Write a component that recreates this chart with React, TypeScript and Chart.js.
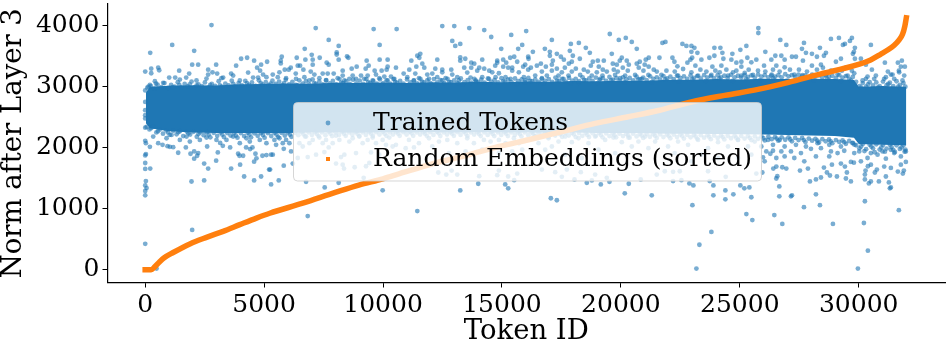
import React, { useEffect, useRef } from "react";
import { Chart, registerables } from "chart.js";

Chart.register(...registerables);

const seriesNames = ["Trained Tokens", "Random Embeddings (sorted)"];
const xTitle = "Token ID";
const yTitle = "Norm after Layer 3";
const xTicks = [0, 5000, 10000, 15000, 20000, 25000, 30000];
const yTicks = [0, 1000, 2000, 3000, 4000];

// Solid core of the trained-token cloud, read as an envelope: [token id, norm]
const coreTop: number[][] = [
  [30,2900],[200,3000],[1000,3015],[2000,3025],[3000,3020],[4000,3040],[5000,3045],[6000,3055],[7000,3050],[8000,3065],[9000,3060],[10000,3070],
  [11000,3060],[12000,3075],[13000,3070],[14000,3080],[15000,3075],[16000,3085],[17000,3080],[18000,3095],[19000,3090],[20000,3100],[21000,3100],
  [22000,3115],[23000,3115],[24000,3125],[25000,3120],[26000,3130],[27000,3125],[28000,3130],[29000,3125],[29800,3110],[30000,3000],[31000,3010],[32000,3000],
];
const coreBottom: number[][] = [
  [30,2400],[200,2320],[1000,2270],[2000,2250],[3000,2240],[4000,2240],[5000,2235],[6000,2240],[7000,2250],[8000,2250],[9000,2245],[10000,2255],
  [11000,2250],[12000,2255],[13000,2250],[14000,2255],[15000,2250],[16000,2250],[17000,2245],[18000,2250],[19000,2240],[20000,2240],[21000,2235],
  [22000,2230],[23000,2230],[24000,2225],[25000,2220],[26000,2215],[27000,2210],[28000,2200],[29000,2190],[29800,2165],[30000,2060],[31000,2050],[32000,2040],
];

// Dots that make up the rough upper and lower rim of the cloud
const rimAbove: number[][] = [
  [90,2985],[240,3010],[390,2970],[520,3035],[680,2995],[810,3060],[970,2980],[1090,3030],[1240,3000],[1370,3075],[1520,2990],[1660,3045],[1790,3005],[1950,3085],[2090,2995],[2240,3040],[2380,3010],[2510,3070],[2670,2990],[2800,3045],[2940,3015],[3090,3090],[3220,3000],[3370,3050],[3510,3020],[3640,3100],[3790,3010],[3930,3060],[4070,3020],[4210,3095],[4360,3030],[4490,3070],[4640,3015],[4780,3105],[4930,3035],[5070,3075],
  [5200,3025],[5350,3100],[5480,3045],[5630,3085],[5770,3030],[5910,3115],[6050,3040],[6190,3080],[6330,3030],[6480,3105],[6620,3050],[6760,3090],[6900,3035],[7040,3120],[7180,3045],[7320,3085],[7460,3040],[7610,3110],[7750,3055],[7890,3095],[8030,3040],[8170,3125],[8310,3060],[8450,3090],[8600,3045],[8740,3115],[8880,3055],[9020,3100],[9160,3045],[9300,3125],[9450,3060],[9590,3095],[9730,3050],[9870,3120],[10010,3060],[10150,3105],
  [10300,3050],[10440,3125],[10580,3065],[10720,3095],[10860,3050],[11010,3120],[11150,3070],[11290,3100],[11430,3055],[11570,3130],[11710,3070],[11860,3105],[12000,3060],[12140,3125],[12280,3070],[12420,3110],[12570,3060],[12710,3130],[12850,3075],[12990,3105],[13130,3060],[13270,3135],[13420,3075],[13560,3110],[13700,3065],[13840,3130],[13980,3080],[14130,3115],[14270,3065],[14410,3135],[14550,3085],[14690,3110],[14840,3070],[14980,3140],[15120,3085],[15260,3115],
  [15400,3075],[15550,3135],[15690,3090],[15830,3120],[15970,3075],[16110,3145],[16260,3090],[16400,3120],[16540,3080],[16680,3140],[16820,3095],[16970,3125],[17110,3080],[17250,3150],[17390,3095],[17530,3130],[17680,3085],[17820,3145],[17960,3100],[18100,3130],[18240,3090],[18390,3155],[18530,3105],[18670,3135],[18810,3095],[18950,3150],[19100,3110],[19240,3140],[19380,3095],[19520,3160],[19660,3115],[19810,3140],[19950,3100],[20090,3155],[20230,3120],[20370,3145],
  [20520,3105],[20660,3165],[20800,3125],[20940,3150],[21080,3110],[21230,3170],[21370,3130],[21510,3155],[21650,3120],[21790,3175],[21940,3135],[22080,3165],[22220,3125],[22360,3180],[22500,3140],[22650,3170],[22790,3130],[22930,3185],[23070,3145],[23210,3175],[23360,3135],[23500,3190],[23640,3150],[23780,3175],[23920,3140],[24070,3190],[24210,3155],[24350,3180],[24490,3145],[24630,3195],[24780,3155],[24920,3180],[25060,3150],[25200,3195],[25340,3160],[25490,3185],
  [25630,3150],[25770,3200],[25910,3165],[26050,3190],[26200,3155],[26340,3200],[26480,3165],[26620,3190],[26760,3155],[26910,3205],[27050,3170],[27190,3190],[27330,3160],[27470,3200],[27620,3170],[27760,3185],[27900,3150],[28040,3200],[28180,3165],[28330,3185],[28470,3150],[28610,3195],[28750,3160],[28890,3180],[29040,3140],[29180,3190],[29320,3150],[29460,3175],[29600,3130],[29750,3160],[29890,3080],[30030,3010],[30170,3060],[30310,3000],[30460,3075],[30600,3020],
  [30740,3070],[30880,3010],[31020,3085],[31170,3025],[31310,3065],[31450,3010],[31590,3090],[31730,3030],[31880,3060],[31960,3000],
];
const rimBelow: number[][] = [
  [60,2340],[180,2300],[330,2340],[470,2250],[610,2300],[750,2230],[890,2285],[1030,2210],[1180,2280],[1320,2220],[1460,2270],[1600,2190],[1750,2265],[1890,2215],[2030,2260],[2170,2180],[2310,2250],[2460,2205],[2600,2255],[2740,2170],[2880,2245],[3030,2195],[3170,2250],[3310,2175],[3450,2240],[3590,2200],[3740,2245],[3880,2165],[4020,2240],[4160,2190],[4310,2245],[4450,2170],[4590,2235],[4730,2195],[4870,2240],[5020,2165],
  [5160,2240],[5300,2190],[5440,2245],[5590,2175],[5730,2245],[5870,2200],[6010,2250],[6150,2180],[6300,2245],[6440,2205],[6580,2255],[6720,2185],[6870,2250],[7010,2210],[7150,2255],[7290,2190],[7430,2250],[7580,2205],[7720,2260],[7860,2190],[8000,2250],[8150,2210],[8290,2260],[8430,2195],[8570,2250],[8710,2215],[8860,2255],[9000,2190],[9140,2250],[9280,2210],[9420,2255],[9570,2195],[9710,2255],[9850,2215],[9990,2260],[10140,2195],
  [10280,2250],[10420,2215],[10560,2255],[10700,2195],[10850,2255],[10990,2215],[11130,2260],[11270,2195],[11410,2250],[11560,2215],[11700,2255],[11840,2195],[11980,2255],[12120,2210],[12270,2260],[12410,2190],[12550,2250],[12690,2215],[12840,2255],[12980,2195],[13120,2255],[13260,2210],[13400,2260],[13550,2190],[13690,2250],[13830,2215],[13970,2255],[14110,2190],[14260,2250],[14400,2210],[14540,2255],[14680,2190],[14830,2250],[14970,2210],[15110,2255],[15250,2190],
  [15390,2250],[15540,2210],[15680,2250],[15820,2185],[15960,2250],[16110,2205],[16250,2250],[16390,2185],[16530,2245],[16670,2205],[16820,2250],[16960,2180],[17100,2245],[17240,2200],[17380,2245],[17530,2180],[17670,2240],[17810,2200],[17950,2245],[18100,2175],[18240,2240],[18380,2195],[18520,2240],[18660,2175],[18810,2235],[18950,2195],[19090,2240],[19230,2170],[19380,2235],[19520,2190],[19660,2235],[19800,2170],[19940,2230],[20090,2190],[20230,2230],[20370,2165],
  [20510,2230],[20660,2185],[20800,2225],[20940,2160],[21080,2225],[21220,2180],[21370,2220],[21510,2160],[21650,2220],[21790,2175],[21940,2215],[22080,2155],[22220,2215],[22360,2175],[22500,2215],[22650,2150],[22790,2210],[22930,2170],[23070,2210],[23210,2145],[23360,2205],[23500,2165],[23640,2205],[23780,2140],[23920,2200],[24070,2160],[24210,2200],[24350,2135],[24490,2195],[24630,2155],[24780,2195],[24920,2130],[25060,2190],[25200,2150],[25340,2190],[25490,2125],
  [25630,2185],[25770,2145],[25910,2185],[26050,2120],[26200,2180],[26340,2140],[26480,2175],[26620,2115],[26760,2170],[26910,2130],[27050,2170],[27190,2105],[27330,2160],[27470,2125],[27620,2160],[27760,2095],[27900,2150],[28040,2115],[28180,2145],[28330,2085],[28470,2140],[28610,2105],[28750,2135],[28890,2075],[29040,2125],[29180,2095],[29320,2120],[29460,2065],[29600,2110],[29750,2080],[29890,2040],[30030,1990],[30170,2060],[30310,1975],[30460,2050],[30600,1990],
  [30740,2055],[30880,1970],[31020,2045],[31170,1985],[31310,2050],[31450,1965],[31590,2040],[31730,1980],[31880,2040],[31960,1970],
];

// Extra rim dots that sit just outside the core and break up its edge
const edgeAbove: number[][] = [
  [140,3000],[455,3050],[1160,2995],[1435,3030],[1870,3040],[2165,3020],[2735,3030],[3145,3020],[3705,3045],[4280,3060],[4860,3060],[5275,3050],[5840,3060],[6405,3020],[7110,3060],[7535,3025],[8240,3065],[8810,3025],[9375,3075],[9940,3025],[10510,3080],[11080,3030],[11640,3085],[12210,3030],[12780,3080],[13345,3035],[13910,3085],[14480,3040],[15050,3090],[15620,3045],[16185,3095],[16750,3050],[17320,3100],[17890,3055],[18455,3110],[19020,3060],[19590,3105],[20160,3070],[20730,3115],[21300,3075],[21870,3120],[22430,3085],[23000,3125],[23570,3095],[24140,3135],[24700,3095],[25270,3130],[25840,3105],[26410,3140],[26980,3100],[27550,3135],[28110,3105],[28680,3130],[29250,3095],[29670,3100],[30100,2985],[30390,3040],[30810,2990],[31240,3045],[31660,3000],
];
const edgeBelow: number[][] = [
  [250,2320],[540,2270],[960,2250],[1390,2255],[1820,2235],[2240,2225],[2670,2215],[3240,2215],[3810,2200],[4380,2215],[4950,2210],[5520,2215],[6080,2215],[6650,2225],[7220,2225],[7790,2230],[8360,2230],[8930,2225],[9500,2230],[10070,2230],[10640,2230],[11200,2235],[11770,2230],[12340,2235],[12910,2230],[13480,2230],[14040,2225],[14610,2225],[15180,2230],[15750,2225],[16320,2225],[16890,2220],[17450,2220],[18020,2220],[18590,2210],[19160,2210],[19730,2205],[20300,2205],[20870,2200],[21440,2195],[22010,2190],[22580,2190],[23140,2185],[23710,2180],[24280,2175],[24850,2165],[25420,2160],[25990,2155],[26550,2150],[27120,2135],[27690,2125],[28260,2115],[28820,2105],[29390,2090],[29820,2050],[30100,2020],[30240,1945],[30530,2020],[30670,1925],[30950,2005],[31100,1935],[31380,2010],[31520,1930],[31800,2005],[31930,1935],
];

// Individually read trained tokens above the core
const trainedAbove: number[][] = [
  [2788,4011],[1136,3686],[212,3556],[2060,3589],[2,3248],[254,3297],[254,3221],[548,3313],[590,3270],[1976,3362],[2228,3362],[1430,3264],[1850,3216],[2984,3362],[2648,3280],[2830,3237],[2648,3200],[3026,3216],[3824,3345],[4034,3459],[4286,3475],[4580,3427],[4874,3362],[5126,3410],[4706,3313],[4832,3264],[4328,3232],[3614,3216],[1010,3151],[1262,3151],[1724,3151],[3278,3151],[3698,3183],[4538,3151],[4958,3200],[4748,3151],[3208,3140],[2578,3134],[1458,3118],[758,3064],[408,3091],[2158,3102],[3978,3102],[5098,3156],[198,3031],
  [7170,3962],[9606,3946],[10572,3946],[7716,3767],[8136,3670],[9858,3686],[6708,3621],[8052,3562],[8052,3529],[7002,3524],[5742,3492],[6372,3475],[7338,3475],[8486,3497],[8542,3475],[7044,3443],[5700,3427],[5700,3383],[6736,3443],[8136,3443],[9312,3427],[9858,3443],[10194,3443],[7632,3394],[7044,3362],[6120,3313],[6414,3345],[6512,3345],[7716,3362],[9396,3345],[10194,3329],[8892,3329],[5868,3280],[6652,3280],[6960,3248],[8304,3264],[8682,3297],[9270,3297],[9648,3264],[9942,3264],[10152,3280],[10544,3313],[5364,3200],[5644,3237],[6330,3216],[6036,3280],[7114,3200],[7464,3216],[7674,3216],[7926,3216],[8304,3183],[8724,3183],[9074,3183],[9354,3183],[9704,3200],[10054,3167],[10334,3167],[5574,3156],[5924,3140],[6344,3129],[6694,3156],[7324,3140],[8094,3140],[8584,3129],[8864,3129],[9214,3129],[9844,3140],[10474,3129],[6904,3102],[7604,3102],[8374,3102],[9564,3102],[10194,3102],
  [12491,3995],[12995,3995],[13625,3962],[14255,3930],[14549,3816],[15389,3849],[16019,3913],[12911,3751],[13037,3670],[13247,3702],[14969,3621],[15683,3621],[15851,3686],[11567,3540],[11441,3508],[11525,3475],[12281,3443],[13247,3481],[13247,3427],[13457,3459],[14171,3443],[14801,3427],[15053,3443],[15347,3475],[15515,3492],[16103,3492],[11189,3427],[11651,3378],[11735,3313],[11105,3280],[11399,3329],[12197,3297],[12491,3280],[12869,3280],[13415,3313],[13709,3394],[13835,3378],[13709,3313],[14045,3313],[14255,3297],[14465,3264],[14717,3345],[14801,3394],[15179,3394],[15053,3329],[15263,3313],[15431,3313],[15641,3410],[15977,3362],[15893,3329],[16103,3280],[10867,3216],[11357,3216],[11861,3200],[12071,3216],[12491,3237],[12911,3200],[13541,3232],[13961,3264],[14591,3237],[14871,3221],[15431,3264],[15711,3237],[11021,3156],[11511,3140],[12281,3156],[12631,3140],[13121,3156],[13681,3151],[14171,3156],[14731,3156],[15151,3156],[15921,3156],[11301,3102],[11931,3129],[12491,3102],[13191,3102],[13891,3102],[14451,3129],[15361,3129],[15991,3102],
  [19534,3865],[17098,3767],[17896,3702],[18232,3719],[19912,3767],[20206,3800],[20458,3735],[20668,3621],[16804,3621],[18526,3638],[16300,3573],[17014,3573],[17854,3589],[18694,3556],[17014,3508],[17308,3540],[17476,3492],[17980,3508],[19618,3540],[18274,3459],[20038,3475],[21172,3475],[16118,3459],[17602,3443],[17140,3427],[17938,3410],[19030,3427],[19282,3427],[19954,3427],[20248,3427],[20794,3410],[21046,3443],[16636,3378],[16468,3345],[17098,3362],[17812,3378],[18820,3410],[18736,3345],[19660,3378],[19828,3362],[20332,3362],[20668,3378],[21002,3362],[21170,3329],[16216,3313],[16846,3329],[17308,3297],[17644,3313],[18106,3297],[18442,3280],[19072,3329],[19240,3280],[19702,3280],[20080,3313],[20752,3313],[21382,3280],[16678,3248],[17098,3264],[17518,3237],[17938,3248],[18610,3248],[18988,3237],[19408,3248],[19870,3248],[20290,3264],[20948,3264],[21508,3248],[16398,3183],[16888,3183],[17378,3183],[17798,3183],[18288,3194],[18778,3183],[19226,3183],[19758,3194],[20178,3183],[20598,3194],[21158,3194],[16678,3129],[17588,3129],[18218,3064],[19128,3129],[19968,3140],[20878,3129],
  [25779,3962],[25779,3881],[26703,3767],[21873,3735],[21747,3719],[22587,3702],[22755,3670],[22965,3670],[23091,3638],[23931,3638],[24183,3638],[25275,3670],[26955,3686],[25023,3605],[22965,3573],[23217,3556],[24267,3556],[26073,3573],[21621,3475],[22167,3475],[22797,3394],[22997,3475],[23721,3475],[23931,3508],[24309,3459],[24687,3540],[25317,3475],[26493,3508],[26745,3508],[22251,3410],[22923,3443],[23385,3443],[24645,3443],[25065,3410],[25695,3443],[26325,3443],[26885,3443],[22377,3334],[23133,3345],[23847,3329],[24225,3345],[24855,3394],[25065,3329],[25485,3400],[26019,3345],[26535,3345],[22615,3291],[23343,3280],[23973,3264],[24435,3280],[24855,3264],[25373,3280],[25765,3264],[26395,3280],[26885,3318],[21915,3264],[22265,3248],[22965,3237],[23595,3248],[24155,3237],[24715,3237],[25205,3226],[26073,3248],[26675,3248],[21705,3194],[22405,3183],[23245,3183],[23805,3194],[24505,3183],[25065,3183],[25555,3194],[26325,3183],
  [28831,3784],[29167,3800],[29713,3800],[29629,3751],[29419,3702],[29335,3686],[27697,3719],[28369,3638],[27613,3621],[29839,3638],[30511,3686],[27781,3556],[28033,3540],[28621,3556],[28537,3508],[29797,3573],[29755,3540],[27193,3492],[27361,3492],[28243,3492],[27655,3427],[29041,3410],[29251,3459],[29839,3459],[30091,3459],[31099,3394],[31645,3394],[31813,3427],[28411,3362],[28033,3345],[28495,3313],[29461,3313],[30301,3362],[30553,3280],[31225,3248],[31771,3329],[31939,3329],[27109,3280],[27487,3280],[27823,3248],[28243,3280],[28831,3264],[29293,3264],[29713,3264],[31351,3200],[31687,3264],[27291,3200],[27641,3190],[28130,3183],[28620,3183],[29111,3200],[29531,3183],[29811,3220],[30301,3129],[30721,3183],[30371,3167],[31071,3129],[31421,3200],[31701,3237],[31911,3183],[30161,3102],[30651,3129],[31141,3156],[31491,3129],[31841,3102],
];

// Individually read trained tokens below the core
const trainedBelow: number[][] = [
  [2,424],[1976,651],[478,18],[30,1452],[2,1382],[58,1338],[2,1290],[2,1219],[2,1749],[2,1652],[212,1658],[30,1896],[2,1874],[198,2015],[30,2074],[2,2112],[2,2328],[2,2480],[2,2534],[2,2615],[2,2750],[2,2940],[1948,1446],[2480,1463],[2480,1739],[2648,1658],[2984,1787],[3054,1923],[3614,1658],[3992,1722],[4160,1528],[4580,1463],[4874,1528],[4580,1771],[4678,1825],[4636,1901],[4930,1868],[5098,1879],[5210,1641],[1388,1917],[1178,2009],[940,2025],[1038,2015],[730,2047],[1710,2004],[1906,1901],[2060,1939],[2228,1912],[2060,1820],[2186,1868],[2606,2020],[3152,2079],[3264,2031],[3572,2004],[3908,1901],[3964,1868],[4118,1868],[4244,2004],[4412,1977],[4510,2004],[548,2074],[338,2182],[898,2155],[1458,2128],[1878,2101],[2298,2128],[2998,2128],[3418,2128],[3978,2074],[4398,2101],[5098,2074],[1108,2209],[1738,2182],[2578,2166],[3698,2182],[4258,2155],[4818,2128],
  [7674,2372],[5826,1706],[5252,1641],[5294,1398],[5616,1463],[7548,1349],[9984,1301],[6834,878],[8136,1425],[6764,1441],[6414,1831],[6624,2020],[6834,1847],[7184,1885],[7534,1928],[7716,2004],[8374,1885],[8234,1847],[8864,1912],[9494,1923],[9844,1885],[10404,2020],[8304,1722],[8024,1739],[8360,1658],[8808,1679],[9284,1696],[9424,1749],[6204,1739],[5826,1982],[5784,2074],[5504,2047],[5364,1885],[5294,1885],[6064,2074],[5644,2155],[5434,2128],[5924,2128],[6134,1939],[6484,2074],[6904,2074],[7464,2074],[7884,2074],[8584,2101],[9144,2074],[9704,2074],[10124,2047],[10544,2047],[7044,2128],[7604,2128],[8164,2128],[8724,2155],[9354,2128],[9984,2128],[6764,2182],[7324,2166],[8024,2198],[9004,2182],[9564,2166],[10264,2166],[9186,1506],
  [11441,960],[13247,1300],[14003,1409],[15137,1398],[15263,1333],[12323,1593],[12659,1560],[12883,1625],[13121,1560],[14045,1533],[14801,1549],[15263,1528],[15641,1576],[15515,1468],[14871,1625],[10951,1993],[11301,2004],[12071,2020],[12771,1912],[13471,1939],[14171,1966],[14871,1912],[15431,1939],[15851,1966],[11511,2074],[12351,2101],[13121,2074],[13821,2074],[14521,2101],[15151,2074],[15711,2074],[11091,2128],[11931,2155],[12701,2128],[13541,2155],[14241,2128],[14871,2128],[15501,2155],[16061,2128],
  [17056,1171],[17308,1138],[20164,1252],[21298,1219],[19156,1398],[20332,1409],[18568,1425],[16678,1641],[17728,1641],[17518,1522],[17238,1598],[18050,1479],[18316,1598],[18778,1463],[18918,1560],[19408,1506],[19520,1441],[20836,1479],[21508,1560],[16818,1966],[17098,2020],[17658,1885],[18358,1831],[19058,1966],[19758,1912],[20458,2020],[21158,1993],[16538,2074],[17378,2101],[17938,2090],[18638,2074],[19338,2128],[20038,2090],[20738,2101],[21438,2101],[16398,2182],[16958,2155],[17658,2182],[18218,2155],[18918,2182],[19688,2166],[20318,2166],[21018,2182],
  [23175,18],[23301,408],[23805,619],[23007,1057],[25275,911],[25527,813],[26451,895],[26787,749],[23889,1219],[24393,1154],[24393,1300],[24729,1236],[25485,1187],[25191,1333],[25401,1349],[25023,1382],[26661,1203],[26661,1365],[23889,1382],[23049,1382],[22881,1414],[25947,1593],[26535,1495],[26577,1533],[26409,1658],[26535,1690],[26787,1679],[26955,1658],[26045,1777],[26283,1901],[26535,1831],[26885,1857],[25975,1842],[26115,1939],[26395,1950],[26745,1939],[22195,1452],[22545,1468],[23735,1452],[23665,1614],[24407,1522],[21845,1614],[22195,1604],[22475,1614],[25695,1576],[22965,1777],[24085,1831],[24925,1831],[25485,1885],[22265,1912],[23385,1885],[21985,2020],[22825,2047],[23665,1993],[24505,2020],[25345,2020],[25905,2020],[26395,2047],[26885,2020],[22405,2101],[23245,2128],[24085,2090],[24925,2128],[25625,2101],[26185,2128],[26675,2128],
  [29965,18],[30385,311],[30217,765],[28915,749],[30259,1122],[31687,976],[28369,1057],[27697,1024],[28201,1236],[27151,1203],[27193,1219],[27949,1447],[28201,1479],[28411,1511],[28663,1593],[28789,1544],[29083,1528],[29503,1593],[29461,1495],[29671,1447],[27529,1625],[27865,1658],[28537,1674],[28873,1722],[29251,1739],[29419,1690],[29671,1766],[29797,1755],[30091,1777],[30287,1625],[30259,1560],[30259,1479],[30427,1414],[30511,1447],[30847,1447],[31141,1528],[31267,1430],[31351,1349],[31309,1333],[30679,1593],[30763,1641],[30385,1696],[30511,1722],[31071,1690],[31351,1668],[31645,1609],[31855,1576],[31897,1625],[31771,1722],[31981,1766],[27291,1831],[27711,1777],[28201,1857],[28761,1857],[29111,1912],[29811,1912],[30371,1831],[30791,1885],[31141,1820],[31491,1912],[31771,1857],[27151,1939],[27571,1912],[27991,1982],[28411,1993],[28831,1939],[29391,1950],[30021,1939],[30511,1912],[31001,1939],[31351,1966],[31981,1939],[27361,2047],[27781,2020],[28271,2074],[28761,2047],[29251,2020],[29741,2074],
];

// Sorted random-embedding norms
const randomSorted: number[][] = [
  [0,0],[250,0],[400,45],[600,125],[800,195],[1178,281],[1878,422],[2578,530],[3278,628],[3978,738],[4678,846],[5238,925],
  [6624,1090],[8024,1270],[8984,1387],[10000,1490],[10671,1570],[12071,1735],[13471,1870],[14871,2020],[16118,2130],[17518,2263],
  [18918,2399],[20318,2507],[21578,2610],[22965,2750],[24365,2858],[25765,2956],[27011,3068],[28411,3210],[29811,3345],[30500,3440],
  [30931,3535],[31250,3610],[31491,3681],[31700,3770],[31841,3859],[31939,3995],[32000,4130],
];

const toPoints = (rows: number[][]) => rows.map(([x, y]) => ({ x, y }));

const BLUE_ALPHA = "rgba(31,119,180,0.6)";
const BLUE = "#1f77b4";
const ORANGE = "#ff7f0e";
const SERIF = "'DejaVu Serif'";

const legendBox = {
  id: "legendBox",
  afterDatasetsDraw(chart: any) {
    const c = chart.ctx;
    const left = 293.5, top = 102.5, w = 468, h = 78.5;
    c.save();
    c.beginPath();
    c.roundRect(left, top, w, h, 4);
    c.fillStyle = "rgba(255,255,255,0.8)";
    c.fill();
    c.lineWidth = 1;
    c.strokeStyle = "rgba(204,204,204,0.8)";
    c.stroke();
    c.beginPath();
    c.arc(328, 123, 2.4, 0, Math.PI * 2);
    c.fillStyle = BLUE_ALPHA;
    c.fill();
    c.fillStyle = ORANGE;
    c.fillRect(326, 157, 4, 4);
    c.fillStyle = "#000";
    c.font = `25px ${SERIF}`;
    c.textBaseline = "alphabetic";
    c.textAlign = "left";
    c.fillText(seriesNames[0], 373, 129.5);
    c.fillText(seriesNames[1], 373, 166);
    c.restore();
  },
};

export default function App() {
  const ref = useRef<HTMLCanvasElement>(null);
  useEffect(() => {
    const chart = new Chart(ref.current!, {
      type: "scatter",
      data: {
        datasets: [
          {
            label: seriesNames[1],
            data: toPoints(randomSorted),
            showLine: true,
            borderColor: ORANGE,
            borderWidth: 5.5,
            borderCapStyle: "square",
            cubicInterpolationMode: "monotone",
            pointRadius: 0,
            order: 0,
          },
          {
            label: seriesNames[0],
            data: toPoints([...trainedAbove, ...rimAbove, ...edgeAbove, ...edgeBelow, ...rimBelow, ...trainedBelow]),
            backgroundColor: BLUE_ALPHA,
            borderWidth: 0,
            pointRadius: 2.4,
            order: 1,
          },
          {
            label: "core top",
            data: toPoints(coreTop),
            showLine: true,
            borderWidth: 0,
            pointRadius: 0,
            backgroundColor: BLUE,
            fill: "+1",
            order: 2,
          },
          {
            label: "core bottom",
            data: toPoints(coreBottom),
            showLine: true,
            borderWidth: 0,
            pointRadius: 0,
            order: 3,
          },
        ] as any,
      },
      options: {
        animation: false,
        responsive: false,
        layout: { padding: { top: 1, right: 1, left: 0, bottom: 0 } },
        plugins: { legend: { display: false }, tooltip: { enabled: false } },
        scales: {
          x: {
            type: "linear",
            min: -1584,
            max: 33627,
            afterFit(s: any) { s.height = 58.5; s.paddingRight = 0; s.paddingLeft = 0; },
            afterBuildTicks(s: any) { s.ticks = xTicks.map((value) => ({ value })); },
            border: { color: "#000", width: 1.2 },
            grid: { drawOnChartArea: false, color: "#000", tickLength: 5, tickWidth: 1 },
            ticks: { color: "#000", maxRotation: 0, autoSkip: false, padding: 3, callback: (v: any) => String(v), font: { family: SERIF, size: 25 } },
            title: { display: true, text: xTitle, color: "#000", padding: { top: 0, bottom: -7 }, font: { family: SERIF, size: 27.5 } },
          },
          y: {
            type: "linear",
            min: -211,
            max: 4357,
            afterFit(s: any) { s.width = 107.5; s.paddingTop = 0; s.paddingBottom = 0; },
            afterBuildTicks(s: any) { s.ticks = yTicks.map((value) => ({ value })); },
            border: { color: "#000", width: 1.2 },
            grid: { drawOnChartArea: false, color: "#000", tickLength: 5, tickWidth: 1 },
            ticks: { color: "#000", autoSkip: false, padding: 3, callback: (v: any) => String(v), font: { family: SERIF, size: 25 } },
            title: { display: true, text: yTitle, color: "#000", padding: { top: -3, bottom: 0 }, font: { family: SERIF, size: 27.5 } },
          },
        },
      } as any,
      plugins: [legendBox],
    });
    return () => chart.destroy();
  }, []);
  return (
    <div style={{ position: "fixed", left: 0, top: 0, width: 949, height: 341, background: "#fff" }}>
      <canvas ref={ref} width={949} height={341} style={{ display: "block" }} />
    </div>
  );
}
